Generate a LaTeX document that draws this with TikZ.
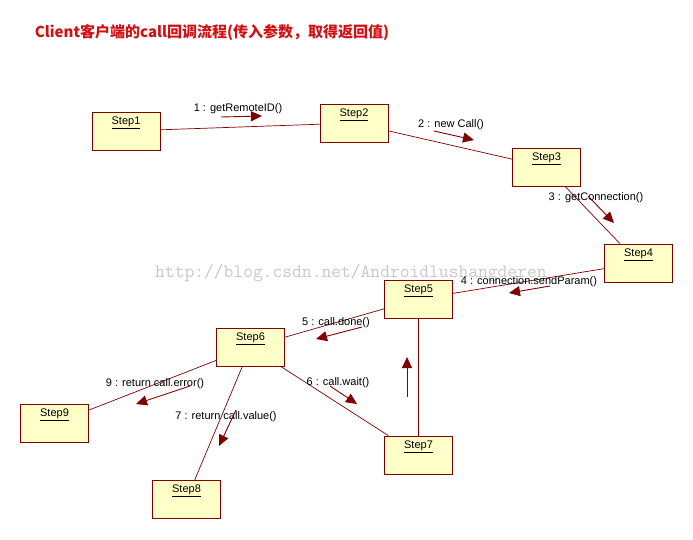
\documentclass[tikz,border=0pt]{standalone}
\usepackage{fontspec}
\setmainfont{Liberation Sans}
\newfontfamily\cjk{Noto Sans CJK SC}
\usetikzlibrary{arrows.meta}
\definecolor{rosered}{RGB}{128,0,0}
\definecolor{boxyellow}{RGB}{255,255,200}
\definecolor{titlered}{RGB}{210,16,20}
\definecolor{markgray}{RGB}{200,200,200}

\begin{document}
\begin{tikzpicture}[x=1pt,y=-1pt,
  stepbox/.style={draw=rosered,fill=boxyellow,line width=0.8pt,minimum width=68pt,minimum height=38pt,inner sep=0pt,
    label={[anchor=center,yshift=-11pt,font=\fontsize{11}{13}\selectfont]north:\underline{#1}}},
  link/.style={draw=rosered,line width=0.7pt},
  msg/.style={rosered,line width=0.9pt,-{Triangle[length=11pt,width=10pt]}},
  msglbl/.style={font=\fontsize{11}{13}\selectfont,inner sep=0pt}]
  \useasboundingbox (0,0) rectangle (693,539);

  \node[font=\cjk\bfseries\fontsize{15}{18}\selectfont,text=titlered] (title) at (212,32) {Client客户端的call回调流程(传入参数，取得返回值)};

  %\draw[help lines,step=50] (0,0) grid (693,539);
  \node[anchor=base west,inner sep=0pt,text=markgray,font=\ttfamily\fontsize{19}{19}\selectfont] (mark) at (155,277) {http://blog.csdn.net/Androidlushangderen};

  % the steps
  \node[stepbox=Step1] (s1) at (126,131) {};
  \node[stepbox=Step2] (s2) at (354,123) {};
  \node[stepbox=Step3] (s3) at (546.5,167) {};
  \node[stepbox=Step4] (s4) at (638.5,263) {};
  \node[stepbox=Step5] (s5) at (418.5,299) {};
  \node[stepbox=Step6] (s6) at (250.5,347) {};
  \node[stepbox=Step7] (s7) at (418.5,455) {};
  \node[stepbox=Step8] (s8) at (186.5,499.5) {};
  \node[stepbox=Step9] (s9) at (54.5,423.5) {};

  \draw[link] (s1) -- (s2);
  \draw[link] (s2) -- (s3);
  \draw[link] (s3) -- (s4);
  \draw[link] (s4) -- (s5);
  \draw[link] (s5) -- (s6);
  \draw[link] (s5) -- (s7);
  \draw[link] (s6) -- (s7);
  \draw[link] (s6) -- (s8);
  \draw[link] (s6) -- (s9);

  % messages
  \node[msglbl] (m1) at (238,109) {1 : getRemoteID()};
  \draw[msg] (221,117) -- (262,116);
  \node[msglbl] (m2) at (451,125) {2 : new Call()};
  \draw[msg] (434,131) -- (474,140);
  \node[msglbl] (m3) at (596,198) {3 : getConnection()};
  \draw[msg] (588,196) -- (614,223);
  \node[msglbl] (m4) at (529,282) {4 : connection.sendParam()};
  \draw[msg] (550,286) -- (509,293);
  \node[msglbl] (m5) at (336,323) {5 : call.done()};
  \draw[msg] (362,327) -- (316,339);
  \node[msglbl] (m6) at (338,383) {6 : call.wait()};
  \draw[msg] (330,386) -- (357,404);
  \node[msglbl] (m7) at (226,417) {7 : return call.value()};
  \draw[msg] (236,410) -- (219,446);
  \draw[msg] (407,397) -- (407,357);
  \node[msglbl] (m9) at (155,384) {9 : return call.error()};
  \draw[msg] (190,386) -- (136,404);
\end{tikzpicture}
\end{document}
